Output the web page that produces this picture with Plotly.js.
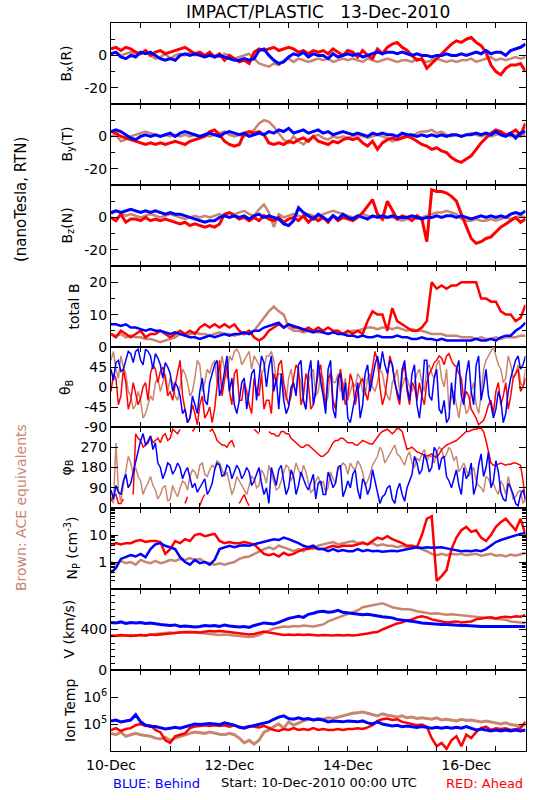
<!DOCTYPE html>
<html>
<head>
<meta charset="utf-8">
<script src="https://cdn.plot.ly/plotly-3.0.1.min.js"></script>
<style>html,body{margin:0;padding:0;background:#fff;}#chart{width:550px;height:800px;}</style>
</head>
<body>
<div id="chart"></div>
<script>
// ---------- data (samples from 10-Dec-2010 00:00 UTC; hour offsets) ----------
const STEP_HOURS = 2;      // B, n, V, T series: one value every 2 h
const FINE_HOURS = 1;      // angle series: one value every 1 h
const dayLabels = ['10-Dec', '12-Dec', '14-Dec', '16-Dec'];
const labelHours = [0, 48, 96, 144];

// Bx (R), nT
const bxRed = [4,5,3,5,4, 2,1,3,0, 2,3,1,2,3, 4,5,3, 1,2,0,2, -1,1,-3,0,-2, -4,-3,-5, 2,4,3, 4,5,3,4,5,4, 2,3,1,3,2, 3,1,4,2,0,3, 2,-1,3,0,-2,4,1,5, 7,8,5, 3,0,-3,-2, -8,-5,-2, 1,4, 7,9,8,10,11,8,6, 2,-6,-10, -12,-8,-6, -6,-5,-10];
const bxBlue = [1,2,-1,-2,0, -1,2,1,2, 0,-2,-3,-2,-3, 0,1,0, 1,0,-1,0, -1,0,-1,-2,-3, -3,-2,-3, -2,3,4, 0,-3,-5,-4,-1,1, 0,2,-1,1,0, 0,-2,1,-1,0,1, 0,1,-1,0,1,2,1,2, 2,1,2, 1,0,1,0, 0,-1,0, 0,1, 0,0,1,0,1,2,1, 3,1,2, 2,0,3, 4,5,7];
const bxBrown = [1,2,0,1,2, 0,1,2,0, -2,-1,1,-2,0, 1,0,2, 0,1,-1,0, 0,-1,1,0,-2, -1,0,1, -2,-5,-6, -7,-5,-6,-3,-2,-4, -2,-3,-4,-3,-2, -3,-2,-4,-3,-2,-3, -2,-3,-4,-2,-3,-4,-3,-2, -3,-4,-3, -3,-4,-2,-3, -4,-3,-2, -3,-4, -3,-4,-3,-3,-2,-4,-3, -2,-1,-3, -2,-3,-2, -1,-2,-1];

// By (T), nT
const byRed = [3,2,0,-1,-2, -3,-4,-5,-4, -5,-4,-5,-4,-3, -4,-5,-3, -2,-1,0,3, 4,1,-3,-5,-6, -5,2,3, 2,3,1, -4,-5,-4,-5,-3,-4, -2,-1,-3,0,-3, -4,-5,-3,-4,-2,-1, -2,-1,-4,-6,-3,-8,-4,-2, -1,-2,-1, 0,-1,-3,-5, -6,-8,-7, -9,-10, -13,-15,-16,-14,-12,-8,-4, -1,2,4, 3,1,2, 4,1,8];
const byBlue = [3,4,3,1,-1, -2,0,1,0, 1,0,1,2,0, 2,3,2, 1,0,1,2, 1,0,2,3,2, 1,2,0, 1,2,1, 3,2,4,3,5,2, 3,4,2,3,4, 2,3,1,2,3,2, 1,2,1,0,2,1,2,1, 1,0,2, 1,1,0,1, 0,1,0, 1,0, 1,1,0,1,1,2,1, 2,1,3, 1,0,2, -1,2,3];
const byBrown = [0,1,-3,-2,0, 1,2,3,2, 1,0,1,0,1, 0,1,0, 1,0,1,0, 1,2,3,1,0, 1,0,2, 4,8,10, 9,6,2,-2,-4,0, -3,-5,-2,0,1, -1,-2,0,-1,0,-1, 0,1,0,-1,0,1,0,-1, -3,-2,0, 1,0,2,3, 3,4,2, 3,1, 0,1,0,1,2,1,0, 1,0,1, 2,1,0, 1,0,1];

// Bz (N), nT
const bzRed = [0,-2,2,-3,-1, -1,-2,0,-2, -1,-2,-1,-2,-3, -4,-3,-5, -4,-5,-6,-5, -6,-4,2,3,1, -1,0,-2, 0,-2,1, -1,-2,0,-3,-1,0, -2,1,-3,0,-2, 0,-3,1,-2,0,-1, -2,0,3,7,11,2,-1,10, 4,-1,1, 0,-2,1,-1, -15,17,16, 16,15, 13,10,2,-6,-13,-16,-15, -13,-12,-9, -6,-4,-2, 0,-3,-1];
const bzBlue = [3,4,3,4,5, 4,3,4,3, 4,3,2,3,2, 2,1,0, -1,-2,-3,-2, -2,0,1,0,1, 0,1,-1, 1,2,0, 1,0,-1,-4,-5,-2, 6,3,1,-1,2, 0,-2,1,-1,2,0, -1,1,0,-1,1,0,1,0, 1,0,0, 0,1,0,-1, 0,0,1, 0,1, 1,0,1,0,-1,0,1, 0,1,0, 1,0,2, 3,2,4];
const bzBrown = [2,4,3,1,2, 1,0,1,2, 1,0,1,2,1, 0,-1,0, 1,0,1,0, 1,2,1,3,2, 3,4,2, 1,5,8, 3,-6,2,0,1,2, 1,0,2,1,0, 2,3,4,3,2,1, 0,1,2,1,0,1,-1,0, 0,-1,-2, -1,0,-1,0, 1,2,3, 3,4, 3,2,-1,-2,-2,-1,-2, -2,-1,-2, -1,0,-1, 0,1,0];

// total B, nT
const btRed = [4,3,5,4,3, 4,5,3,4, 4,5,4,3,4, 5,4,5, 4,6,7,6, 7,6,7,6,7, 5,4,5, 3,2,3, 5,6,7,6,7,6, 6,5,6,5,6, 5,6,5,5,4,5, 4,5,4,8,11,10,10,5, 12,8,7, 6,5,5,6, 8,20,18, 19,18, 19,19,20,20,20,20,15, 15,14,14, 11,10,10, 8,9,13];
const btBlue = [7,7,6.5,7,6, 6,5.5,5,5.5, 5,5,4.5,4,4.5, 4,3.5,3, 3,2.5,3,3.5, 3,3.5,4,3.5,4, 4,4.5,4, 5,5,6, 6.5,7,7.5,6,7,6.5, 6,5.5,5,4.5,5, 4.5,4,4.5,4,4,3.5, 3.5,3,3.5,3,3,3.5,3,3, 3,3.5,3, 3,2.5,2.5,3, 2.5,2.5,2, 2.5,2, 2,2,1.8,2,2,2.5,2, 2,2.5,2, 3,3.5,3.5, 5,6,7.5];
const btBrown = [4,3.5,4,3,3.5, 3,3,2.5,2.5, 2,1.5,2,2.5,3, 4,3.5,4, 4.5,4,4,3.5, 4,4.5,4,4,3.5, 4,4,4.5, 5,7,9, 11,12.5,11,10,6,5, 5,4.5,5,5,4.5, 4.5,4,4.5,4.5,4,4.5, 5,5,5.5,6,6,5.5,6,6, 5.5,6,5.5, 5,5.5,5,5, 4.5,4,4, 4,3.5, 3.5,3.5,3,3,3,2.5,3, 2.5,2.5,3, 2.5,3,3, 3,3.5,3.5];

// theta_B, deg: values at even hours, and at the odd hours between them
const thBlueEven = [40,55,35,60,75, 80,60,85,70, 75,50,55,30,10, -20,-50,-70, -40,-10,-30,10, 50,-20,40,-10,-40, -30,20,-10, 40,20,55, 45,-10,-50,-30,-45,10, 50,-30,30,-40,60, -20,40,-50,20,-30,-70, -50,10,-40,50,20,70,80,30, 50,-10,40, 0,30,-40,-20, 60,-30,40, -60,-80, 10,40,-20,30,-10,50,-30, 40,-40,-50, -30,-60,20, 60,40,70];
const thBlueOdd = [15,60,40,80,55,85,50,80,40,65,20,45, -10,0,-60,-80,-20,-60,20,-40,30,60,0,70, 20,-60,10,-50,30,-30,70,0,70,20,30,-60, 0,-20,60,-50,60,-10,10,-60,60,-70,30,10, -80,-20,-70,30,-10,50,40,50,60,10,-30,60, -30,50,-70,60,-20,20,-50,-30,-70,-40,60,-40, 60,-40,70,0,-20,-70,-10,-80,-10,40,70,50];
const thRedEven = [-10,20,-20,10,-30, -15,-25,10,30, 40,35,20,-10,5, 60,-50,-70, -60,-40,-70,-45, -50,60,20,-10,30, -30,10,-40, 20,-20,-50, -30,30,50,10,-40,20, 40,-20,10,-40,30, -10,20,-30,10,0,-20, 10,-10,20,-30,40,60,-40,20, 50,-20,30, -10,10,-30,-20, 10,40,60, 65,70, 60,45,20,-10,-50,-70,-80, -60,-30,-10, -40,10,-20, 30,-10,20];
const thRedOdd = [30,-40,40,-50,10,-40,0,-30,50,10,45,-20, -30,30,-20,-80,-40,-85,-20,-60,-80,10,-20,50, -40,40,-30,-10,-60,-10,30,-30,-60,10,60,-20, -20,50,-40,30,-50,0,50,-40,30,-50,40,-40, 30,-40,10,-10,10,80,0,-20,70,10,-40,50, -40,0,10,-40,30,55,70,50,75,50,30,-30, -20,-60,-85,-75,-40,-60,10,-20,-50,20,40,0];
const thBrownEven = [60,40,70,30,-20, -40,-30,-60,-20, 10,-10,30,20,-20, 0,30,-20, 20,50,10,30, 60,20,40,70,80, 75,60,80, 70,50,40, 70,60,30,-10,20,0, 30,-30,10,40,-10, 20,-20,10,30,0,-30, 10,30,-10,20,0,10,30,-20, 10,40,0, 20,-10,30,10, 40,30,50, 20,40, -20,-40,-30,-60,-10,-40,-20, 60,80,70, 40,20,50, 30,10,40];
const thBrownOdd = [80,20,45,-10,-50,-10,-70,-40,-30,20,10,-10, 10,-30,40,10,-10,60,-10,40,50,10,70,20, 60,85,50,70,40,60,30,70,80,10,30,-30, 40,-10,10,-50,30,-20,30,-40,40,10,-10,20, -10,0,20,-20,30,-10,40,0,-30,20,-10,20, 0,10,40,-10,50,20,60,0,-50,-10,-70,-30, -50,10,-60,40,70,90,50,10,70,20,50,0];

// phi_B, deg
const phBlueEven = [80,100,60,150,110, 200,300,280,320, 290,180,160,190,170, 180,160,140, 110,90,130,80, 170,190,150,180,160, 170,150,160, 120,180,60, 20,140,170,120,90,140, 100,130,80,150,110, 60,160,90,180,50,120, 150,80,130,60,170,70,50,90, 40,80,60, 90,150,200,170, 210,180,250, 220,140, 90,170,60,130,200,100,240, 180,90,210, 70,30,90, 20,60,40];
const phBlueOdd = [40,70,120,90,160,250,330,290,260,200,130,200, 150,200,130,180,90,70,110,60,110,200,140,190, 130,190,130,180,100,150,110,90,180,100,190,60, 170,60,160,100,120,40,120,60,130,110,190,80, 90,170,40,110,90,120,20,60,100,20,110,30, 120,230,150,240,160,270,170,230,120,130,100,180, 150,60,190,140,250,120,160,40,110,60,10,80];
// red phi, hourly (null = wrap-around break between 360 and 0)
const phRedHourly = [30,50,60,20,20,40,null,350,null,60, 330,310,300,270,280,300,320,290,300,310, 290,320,330,300,310,350,340,330,350,null, 20,50,null,340,355,null,10,40,60,null, 340,350,330,300,290,280,280,270,290,300, 270,null,20,40,60,30,10,null,350,340, 330,null,30,null,340,330,330,320,320,340, 340,330,330,310,300,290,280,270,270,280, 280,270,260,250,240,230,230,240,250,270, 290,300,300,310,310,300,290,290,290,280, 280,290,300,295,290,285,285,300,320,330, 340,345,350,340,330,340,355,350,340,300, 260,265,270,260,250,245,240,235,230,235, 240,230,225,240,260,270,280,285,290,295, 300,310,320,330,340,340,345,350,350,355, 355,340,300,250,200,190,190,195,200,195, 190,195,195,200,200,195,190,120,30];
const phBrownEven = [50,290,30,150,200, 180,120,90,140, 80,60,100,40,70, 90,110,140, 160,190,150,170, 180,200,140,110,90, 120,80,100, 130,100,150, 190,120,90,160,180,150, 170,190,110,80,140, 120,90,130,170,200,150, 180,210,160,120,190,230,250,220, 260,240,210, 230,200,220,240, 210,230,250, 260,240, 250,230,180,170,160,120,90, 140,100,80, 120,60,90, 50,80,40];
const phBrownOdd = [20,80,100,230,150,140,60,110,100,40,90,30, 100,50,120,80,170,130,200,140,190,210,170,160, 60,140,100,60,140,90,170,110,150,80,120,190, 120,200,140,160,70,120,100,70,160,110,180,190, 200,170,190,100,150,210,270,200,240,280,230,190, 250,180,210,260,230,200,270,220,270,210,160,200, 140,180,100,70,130,110,60,100,140,40,70,20];

// proton density, cm^-3
const npRed = [4,5,4.5,5,5, 6,6.5,5.5,6, 6,5.5,2,3,6, 5,7,6, 10,11,9,10, 11,6,5,5.5,5, 5,5.5,5, 4.5,3,2, 1.8,2,1.6,2.2,1.8,2, 2.5,3,3,3.5,3, 3,3.5,4,3.5,4,4, 4,4.5,5,4.5,6,8,7,9, 7,6,5, 4,4,3.5,10, 40,50,0.2, 0.3,0.5, 3,8,15,20,13,15,8, 6,10,20, 30,40,25, 15,40,10];
const npBlue = [0.4,0.6,1.3,1.5,1.8, 1.6,2,1.5,3, 4.5,5,4,3.5,3, 1.5,1,0.8, 1.2,0.9,1,0.8, 1.2,3,3.5,4,3.5, 4,4.2,4, 4.5,5,5.5, 6,7,6.5,8,7,6, 5,4,3.5,4,3, 3,2.5,3,2.5,2.8,2.5, 2.5,3,2.5,2.8,2.5,2.6,2.4,2.5, 2.6,2.5,2.7, 3,3.2,3.5,3.3, 3.5,3.4,3.5, 3.5,3.2, 3,2.8,2.5,2.6,2.5,2.7,2.5, 3,4,5.5, 6.5,7.5,8.5, 10,11,12];
const npBrown = [1,0.8,1.1,0.9,1, 0.8,1.2,1,0.9, 1.1,0.9,1,1.2,1.1, 1.3,1.2,1.4, 1.2,1.3,1,0.9, 0.8,0.9,0.8,0.9,1, 1.3,1.5,1.6, 2,2.5,3, 3.5,3,4,3.5,3,2.5, 3,2.5,3.5,3,4, 4.5,5,5.5,4.5,5,5.5, 6,5,5.5,4.5,5,4,4.5,4, 4,3.5,4, 3.5,4,3.5,3, 2.5,2,1.8, 2,1.8, 2,1.9,2,1.8,1.9,2,1.7, 1.8,2,1.7, 1.8,1.6,1.9, 1.7,2,2.2];

// bulk speed, km/s
const vBlue = [470,465,475,460,470, 465,470,460,465, 455,450,445,440,445, 430,435,430, 425,430,440,435, 440,430,445,435,430, 425,430,420, 440,455,465, 460,455,470,490,510,520, 530,520,550,560,575, 580,570,575,590,570,565, 560,555,545,550,540,530,525,520, 515,500,495, 490,485,475,465, 460,455,455, 450,450, 445,445,440,440,435,430,430, 430,430,425, 430,425,425, 425,425,430];
const vRed = [340,335,345,340,335, 340,345,340,350, 345,350,355,360,365, 370,375,370, 375,370,380,385, 380,385,380,375,370, 360,355,350, 355,365,380, 370,360,350,345,350,345, 350,345,350,345,340, 345,340,340,345,340,345, 340,345,350,360,370,375,400,420, 440,460,470, 490,500,520,530, 520,500,490, 480,470, 475,480,470,475,480,500,510, 515,520,510, 520,525,520, 530,525,545];
const vBrown = [335,340,335,340,345, 340,345,340,350, 355,360,365,370,365, 375,370,380, 370,365,360,350, 350,345,350,345,340, 335,330,325, 330,345,370, 390,410,420,430,425,435, 430,440,435,430,440, 450,480,500,515,540,555, 570,590,620,630,640,650,660,640, 620,610,600, 600,595,580,570, 560,555,560, 550,545, 550,545,540,535,530,525,520, 515,510,505, 500,495,480, 475,470,465];

// ion temperature, K
const tBlue = [1.3e5,1.4e5,1.2e5,1.3e5,1.4e5, 2.2e5,1.2e5,0.9e5,0.8e5, 0.8e5,0.7e5,0.65e5,0.7e5,0.75e5, 0.7e5,0.8e5,0.9e5, 1.0e5,0.95e5,1.0e5,1.05e5, 1.0e5,0.95e5,1.1e5,1.0e5,0.9e5, 0.75e5,0.7e5,0.8e5, 0.9e5,1.0e5,1.1e5, 1.2e5,1.5e5,1.8e5,2.0e5,1.6e5,1.5e5, 1.7e5,1.5e5,1.6e5,1.4e5,1.5e5, 1.4e5,1.2e5,1.3e5,1.25e5,1.2e5,1.3e5, 1.25e5,1.2e5,1.3e5,1.1e5,1.0e5,1.2e5,1.0e5,0.9e5, 0.85e5,0.9e5,0.8e5, 0.85e5,0.8e5,0.75e5,0.8e5, 0.75e5,0.7e5,0.75e5, 0.7e5,0.75e5, 0.7e5,0.75e5,0.7e5,0.8e5,0.7e5,0.6e5,0.65e5, 0.6e5,0.55e5,0.6e5, 0.55e5,0.6e5,0.55e5, 0.6e5,0.55e5,0.6e5];
const tRed = [0.6e5,0.7e5,0.55e5,0.65e5,0.7e5, 0.9e5,1.0e5,0.85e5,0.9e5, 0.6e5,0.5e5,0.25e5,0.2e5,0.35e5, 0.4e5,0.45e5,0.7e5, 0.8e5,0.85e5,0.9e5,0.85e5, 0.9e5,0.85e5,0.9e5,0.8e5,0.9e5, 0.8e5,0.75e5,0.85e5, 0.8e5,0.75e5,0.85e5, 0.7e5,0.6e5,0.55e5,0.65e5,0.6e5,0.7e5, 0.6e5,0.65e5,0.6e5,0.7e5,0.6e5, 0.65e5,0.6e5,0.6e5,0.65e5,0.6e5,0.65e5, 0.65e5,0.7e5,0.65e5,0.75e5,0.9e5,1.3e5,1.5e5,1.6e5, 1.4e5,1.5e5,1.2e5, 1.1e5,1.0e5,0.9e5,0.95e5, 0.8e5,0.3e5,0.15e5, 0.2e5,0.12e5, 0.25e5,0.35e5,0.15e5,0.4e5,0.3e5,0.5e5,0.7e5, 0.8e5,0.6e5,0.7e5, 0.65e5,0.7e5,0.6e5, 0.65e5,0.7e5,1.2e5];
const tBrown = [0.45e5,0.4e5,0.5e5,0.35e5,0.4e5, 0.45e5,0.4e5,0.38e5,0.35e5, 0.3e5,0.28e5,0.32e5,0.25e5,0.3e5, 0.35e5,0.4e5,0.45e5, 0.5e5,0.48e5,0.45e5,0.5e5, 0.45e5,0.42e5,0.4e5,0.45e5,0.4e5, 0.3e5,0.2e5,0.25e5, 0.18e5,0.25e5,0.5e5, 0.6e5,0.8e5,1.0e5,0.7e5,1.2e5,0.9e5, 1.1e5,1.3e5,1.5e5,1.4e5,1.6e5, 1.5e5,1.7e5,1.6e5,1.8e5,2.0e5,2.2e5, 2.5e5,2.6e5,2.8e5,2.5e5,2.2e5,2.0e5,2.4e5,2.1e5, 2.0e5,1.8e5,2.0e5, 1.7e5,1.8e5,1.6e5,1.7e5, 1.6e5,1.5e5,1.7e5, 1.4e5,1.5e5, 1.4e5,1.3e5,1.5e5,1.35e5,1.4e5,1.3e5,1.2e5, 1.3e5,1.2e5,1.1e5, 1.0e5,1.1e5,0.95e5, 0.9e5,0.85e5,1.0e5];

// ---------- presentation ----------
const RED = '#ff0000', BLUE = '#0000ff', BROWN = 'rgb(200,134,112)';
const FONT = 'DejaVu Sans, Liberation Sans, sans-serif';
const W = 550, H = 800;
const X0 = 111, X1 = 525.5;
const panelPx = [[23,104],[104,185],[185,266],[266,347],[347,427],[427,508],[508,589],[589,670],[670,751]];

function interleave(even, odd) {
  const out = [];
  even.forEach((v, i) => { out.push(v); if (i < odd.length) out.push(odd[i]); });
  return out;
}
const hours = bxRed.map((_, i) => i * STEP_HOURS);
const thBlue = interleave(thBlueEven, thBlueOdd);
const thRed = interleave(thRedEven, thRedOdd);
const thBrown = interleave(thBrownEven, thBrownOdd);
const phBlue = interleave(phBlueEven, phBlueOdd);
const phBrown = interleave(phBrownEven, phBrownOdd);
const hoursFine = thBlue.map((_, i) => i * FINE_HOURS);

const panels = [
  {series:[bxBrown,bxRed,bxBlue], t:hours, range:[-30,20], tv:[-20,0], tt:['-20','0'], minor:[-10,10], w:[2.5,3,3]},
  {series:[byBrown,byRed,byBlue], t:hours, range:[-30,20], tv:[-20,0], tt:['-20','0'], minor:[-10,10], w:[2.5,3,3]},
  {series:[bzBrown,bzRed,bzBlue], t:hours, range:[-30,20], tv:[-20,0], tt:['-20','0'], minor:[-10,10], w:[2.5,3,3]},
  {series:[btBrown,btRed,btBlue], t:hours, range:[0,25], tv:[0,10,20], tt:['0','10','20'], minor:[5,15], w:[2.5,2.5,2.5]},
  {series:[thBrown,thRed,thBlue], t:hoursFine, range:[-90,90], tv:[-90,-45,0,45], tt:['-90','-45','0','45'], w:[1.5,1.5,1.5]},
  {series:[phBrown,phRedHourly,phBlue], t:hoursFine, range:[0,360], tv:[0,90,180,270], tt:['0','90','180','270'], w:[1.5,1.5,1.5]},
  {series:[npBrown,npRed,npBlue], t:hours, range:[-1,2], type:'log', tv:[1,10], tt:['1','10'],
   minor:[0.2,0.3,0.4,0.5,0.6,0.7,0.8,0.9,2,3,4,5,6,7,8,9,20,30,40,50,60,70,80,90], w:[2.5,2.5,2.5]},
  {series:[vBrown,vRed,vBlue], t:hours, range:[0,800], tv:[0,400], tt:['0','400'],
   minor:[66.7,133.3,200,266.7,333.3,466.7,533.3,600,666.7,733.3], w:[2.5,2.5,3]},
  {series:[tBrown,tRed,tBlue], t:hours, range:[4,7], type:'log', tv:[1e5,1e6], tt:['10<sup>5</sup>','10<sup>6</sup>'], w:[3,2.5,3]}
];

const xMinor = [];
for (let h = 12; h < 168; h += 12) if (labelHours.indexOf(h) < 0) xMinor.push(h);

const colors = [BROWN, RED, BLUE];
const data = [];
const layout = {
  width: W, height: H, margin: {l:0, r:0, t:0, b:0},
  paper_bgcolor: '#fff', plot_bgcolor: '#fff', showlegend: false,
  font: {family: FONT, size: 14, color: '#000'},
  annotations: []
};

panels.forEach((p, i) => {
  const n = i + 1;
  const xa = 'x' + (n === 1 ? '' : n), ya = 'y' + (n === 1 ? '' : n);
  p.series.forEach((s, k) => {
    data.push({x: p.t, y: s, xaxis: xa, yaxis: ya, type: 'scatter', mode: 'lines',
      connectgaps: false, line: {color: colors[k], width: p.w[k]}, hoverinfo: 'skip'});
  });
  const [top, bot] = panelPx[i];
  layout['xaxis' + (n === 1 ? '' : n)] = {
    domain: [X0 / W, X1 / W], anchor: ya, range: [0, 168],
    tickmode: 'array', tickvals: labelHours, ticktext: dayLabels,
    ticks: 'inside', ticklen: 5, tickcolor: '#000', showline: true, mirror: 'ticks',
    linecolor: '#000', linewidth: 1, showgrid: false, zeroline: false,
    minor: {tickmode: 'array', tickvals: xMinor, ticks: 'inside', ticklen: 5, tickcolor: '#000', showgrid: false},
    showticklabels: n === 9, ticklabelstandoff: 1, tickfont: {family: FONT, size: 14}
  };
  const yax = {
    domain: [1 - bot / H, 1 - top / H], anchor: xa, range: p.range, type: p.type || 'linear',
    tickmode: 'array', tickvals: p.tv, ticktext: p.tt,
    ticks: 'inside', ticklen: 7, tickcolor: '#000', showline: true, mirror: 'ticks',
    linecolor: '#000', linewidth: 1, showgrid: false, zeroline: false,
    tickfont: {family: FONT, size: 14}
  };
  if (p.minor) yax.minor = {tickmode: 'array', tickvals: p.minor, ticks: 'inside', ticklen: 4, tickcolor: '#000', showgrid: false};
  layout['yaxis' + (n === 1 ? '' : n)] = yax;
});

function ann(px, py, text, opts) {
  layout.annotations.push(Object.assign({
    xref: 'paper', yref: 'paper', x: px / W, y: 1 - py / H, text: text, showarrow: false,
    xanchor: 'center', yanchor: 'middle', font: {family: FONT, size: 14, color: '#000'}
  }, opts || {}));
}
const NB = '\u00a0';
ann(318, 12, 'IMPACT/PLASTIC' + NB + NB + NB + '13-Dec-2010', {font: {family: FONT, size: 17, color: '#000'}});
ann(67, 63.5, 'B<sub>x</sub>(R)', {textangle: -90});
ann(67, 144.5, 'B<sub>y</sub>(T)', {textangle: -90});
ann(67, 225.5, 'B<sub>z</sub>(N)', {textangle: -90});
ann(74, 306.5, 'total B', {textangle: -90});
ann(66, 387, 'θ<sub>B</sub>', {textangle: -90});
ann(66, 467.5, 'φ<sub>B</sub>', {textangle: -90});
ann(72, 548.5, 'N<sub>P</sub> (cm<sup>-3</sup>)', {textangle: -90});
ann(68, 629.5, 'V (km/s)', {textangle: -90});
ann(70, 710, 'Ion Temp', {textangle: -90});
ann(21, 200, '(nanoTesla,' + NB + 'RTN)', {textangle: -90, font: {family: FONT, size: 15, color: '#000'}});
ann(21, 508, 'Brown:' + NB + 'ACE' + NB + 'equivalents', {textangle: -90, font: {family: FONT, size: 14, color: BROWN}});
ann(111, 783.5, 'BLUE:' + NB + 'Behind', {xanchor: 'left', font: {family: FONT, size: 13, color: BLUE}});
ann(319, 782.5, 'Start:' + NB + '10-Dec-2010' + NB + '00:00' + NB + 'UTC', {font: {family: FONT, size: 13, color: '#000'}});
ann(525, 783.5, 'RED:' + NB + 'Ahead', {xanchor: 'right', font: {family: FONT, size: 13, color: RED}});

Plotly.newPlot('chart', data, layout, {staticPlot: true, displayModeBar: false}).then(gd => {
  // drop the empty placeholder title nodes Plotly leaves for untitled axes
  gd.querySelectorAll('text').forEach(t => { if (!t.textContent.trim()) t.remove(); });
});
</script>
</body>
</html>
